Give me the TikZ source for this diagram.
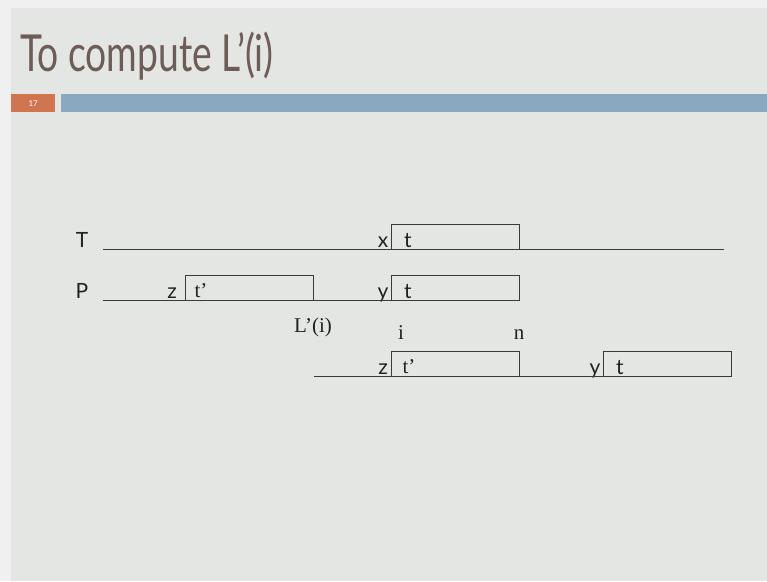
\documentclass[tikz,border=0pt]{standalone}
\usepackage{fontspec}
\setmainfont{Liberation Serif}
\newfontfamily\lblfont{Lato}
\newfontfamily\titlefont{Lato}
\definecolor{outerc}{HTML}{F0F0F0}
\definecolor{slidec}{HTML}{E4E6E3}
\definecolor{titlec}{HTML}{6E5C57}
\definecolor{orangec}{HTML}{CF7650}
\definecolor{bluec}{HTML}{8AA9C1}
\definecolor{linec}{HTML}{3A3A3A}
\definecolor{textc}{HTML}{222222}
\begin{document}
\begin{tikzpicture}[x=1pt,y=-1pt,
  seg/.style={draw=linec, line width=0.85pt},
  boxst/.style={draw=linec, line width=0.85pt, minimum width=128pt, minimum height=25pt, inner sep=0pt, outer sep=0pt, anchor=north west},
  lbl/.style={font=\lblfont\fontsize{21}{21}\selectfont, text=textc, inner sep=0pt, anchor=base},
  ser/.style={font=\fontsize{21}{21}\selectfont, text=textc, inner sep=0pt, anchor=base}]
\useasboundingbox (0,0) rectangle (767,581);
\fill[outerc] (0,0) rectangle (767,581);
\fill[slidec] (11,8) rectangle (767,581);
% header
\node[anchor=base west, text=titlec, inner sep=0pt] (title) at (20,71)
  {\titlefont\fontsize{51}{51}\selectfont\scalebox{0.73}[1]{To compute L’(i)}};
\node[fill=orangec, minimum width=44pt, minimum height=18pt, inner sep=0pt, anchor=north west,
  text=white, font=\lblfont\fontsize{8}{8}\selectfont] (num) at (11,94) {17};
\node[fill=bluec, minimum width=706pt, minimum height=18pt, inner sep=0pt, anchor=north west] (bar) at (61,94) {};
% row T
\node[lbl] (Tl) at (82,247) {T};
\coordinate (Ts) at (103,249);
\coordinate (Te) at (724,249);
\node[boxst] (Tbox) at (391,224) {};
\node[lbl] (Tx) at (383,247) {x};
\node[lbl] (Tt) at (408,247) {t};
\draw[seg] (Ts) -- (Tbox.south west);
\draw[seg] (Tbox.south east) -- (Te);
% row P
\node[lbl] (Pl) at (82,298) {P};
\coordinate (Ps) at (103,300);
\node[boxst] (Pbox1) at (185,275) {};
\node[boxst] (Pbox2) at (391,275) {};
\node[lbl] (Pz) at (172,298) {z};
\node[ser] (Pt1) at (201,297) {t’};
\node[lbl] (Py) at (383,298) {y};
\node[lbl] (Pt2) at (408,298) {t};
\draw[seg] (Ps) -- (Pbox1.south west);
\draw[seg] (Pbox1.south east) -- (Pbox2.south west);
% labels
\node[ser] (Li) at (313,332) {L’(i)};
\node[ser] (ii) at (401,339) {i};
\node[ser] (nn) at (519,339) {n};
% row 3
\coordinate (Rs) at (314,376);
\node[boxst] (Rbox1) at (391,351) {};
\node[boxst] (Rbox2) at (603,351) {};
\node[lbl] (Rz) at (383,374) {z};
\node[ser] (Rt1) at (409,373) {t’};
\node[lbl] (Ry) at (595,374) {y};
\node[lbl] (Rt2) at (620,374) {t};
\draw[seg] (Rs) -- (Rbox1.south west);
\draw[seg] (Rbox1.south east) -- (Rbox2.south west);
\end{tikzpicture}
\end{document}
